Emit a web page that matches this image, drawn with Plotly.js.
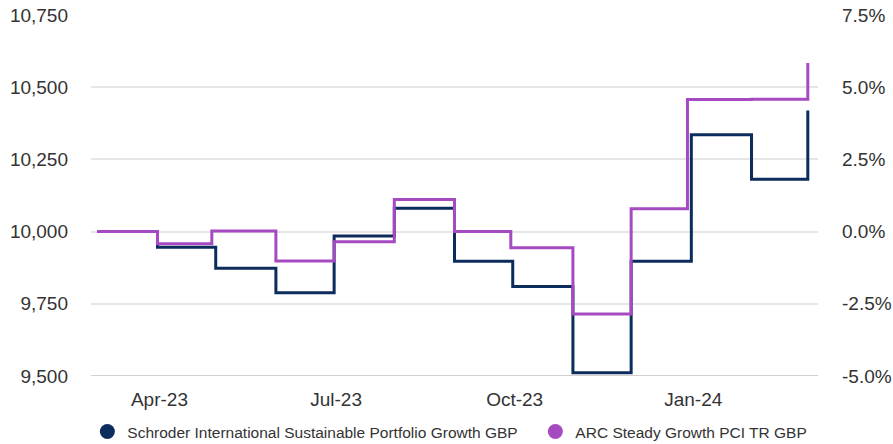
<!DOCTYPE html>
<html>
<head>
<meta charset="utf-8">
<script src="https://cdn.plot.ly/plotly-3.0.1.min.js"></script>
<style>
  html, body { margin: 0; padding: 0; background: #ffffff; }
  #chart { width: 893px; height: 444px; }
</style>
</head>
<body>
<div id="chart"></div>
<script>
// Month-end dates (Schroder uses calendar month-end, ARC uses last business day)
const schroderDates = ['2023-02-28','2023-03-31','2023-04-30','2023-05-31','2023-06-30','2023-07-31','2023-08-31','2023-09-30','2023-10-31','2023-11-30','2023-12-31','2024-01-31','2024-02-29'];
const arcDates      = ['2023-02-28','2023-03-31','2023-04-28','2023-05-31','2023-06-30','2023-07-31','2023-08-31','2023-09-29','2023-10-31','2023-11-30','2023-12-29','2024-01-31','2024-02-29'];

// Growth of 10,000
const schroderValues = [10000, 9946, 9873, 9788, 9985, 10081, 9897, 9810, 9511, 9897, 10335, 10181, 10419];
const arcValues      = [10000, 9958, 10002, 9898, 9965, 10111, 10000, 9944, 9715, 10079, 10457, 10458, 10584];

const seriesNames = ['Schroder International Sustainable Portfolio Growth GBP', 'ARC Steady Growth PCI TR GBP'];
const seriesColors = ['#0b2c5c', '#a64ac2'];

const leftTicks = [9500, 9750, 10000, 10250, 10500, 10750];
const rightTicks = [-5.0, -2.5, 0.0, 2.5, 5.0, 7.5];
const rightTickLabels = ['-5.0%', '-2.5%', '0.0%', '2.5%', '5.0%', '7.5%'];
const xTickDates = ['2023-04-01', '2023-07-01', '2023-10-01', '2024-01-01'];
const xTickLabels = ['Apr-23', 'Jul-23', 'Oct-23', 'Jan-24'];

const FONT = '"Liberation Sans", Arial, Helvetica, sans-serif';
const TXT = '#333333';

const traces = [
  {
    x: schroderDates, y: schroderValues, type: 'scatter', mode: 'lines',
    line: {shape: 'hv', color: seriesColors[0], width: 3},
    name: seriesNames[0], showlegend: false, hoverinfo: 'skip'
  },
  {
    x: arcDates, y: arcValues, type: 'scatter', mode: 'lines',
    line: {shape: 'hv', color: seriesColors[1], width: 3},
    name: seriesNames[1], showlegend: false, hoverinfo: 'skip'
  },
  // percentage mirror on the right axis (invisible)
  {
    x: schroderDates, y: schroderValues.map(v => v / 100 - 100), yaxis: 'y2',
    type: 'scatter', mode: 'lines', line: {color: 'rgba(0,0,0,0)', width: 0},
    showlegend: false, hoverinfo: 'skip'
  },
  // legend entries with round markers
  {
    x: [null], y: [null], type: 'scatter', mode: 'markers',
    marker: {symbol: 'circle', size: 15, color: seriesColors[0]},
    name: seriesNames[0], showlegend: true, hoverinfo: 'skip', legendwidth: 403
  },
  {
    x: [null], y: [null], type: 'scatter', mode: 'markers',
    marker: {symbol: 'circle', size: 15, color: seriesColors[1]},
    name: seriesNames[1], showlegend: true, hoverinfo: 'skip'
  }
];

const layout = {
  width: 893, height: 444,
  margin: {l: 91, r: 75, t: 15, b: 68, autoexpand: false},
  paper_bgcolor: '#ffffff', plot_bgcolor: '#ffffff',
  font: {family: FONT, color: TXT, size: 19},
  showlegend: true,
  legend: {
    orientation: 'h', x: -0.005, xanchor: 'left', y: -0.108, yanchor: 'top',
    font: {family: FONT, size: 15.5, color: TXT},
    itemclick: false, itemdoubleclick: false
  },
  xaxis: {
    type: 'date',
    range: ['2023-02-24 18:00', '2024-03-05 06:00'],
    tickvals: xTickDates, ticktext: xTickLabels,
    showgrid: false, zeroline: false, showline: false,
    ticks: '', ticklabelstandoff: 10,
    tickfont: {family: FONT, size: 19, color: TXT}
  },
  yaxis: {
    range: [9500, 10750],
    tickvals: leftTicks, tickformat: ',d',
    showgrid: true, gridcolor: '#e6e6e6', gridwidth: 2,
    zeroline: false, showline: false, ticks: '', ticklabelstandoff: 22,
    tickfont: {family: FONT, size: 19, color: TXT}
  },
  yaxis2: {
    overlaying: 'y', side: 'right',
    range: [-5, 7.5],
    tickvals: rightTicks, ticktext: rightTickLabels,
    showgrid: false, zeroline: false, showline: false, ticks: '', ticklabelstandoff: 23,
    tickfont: {family: FONT, size: 19, color: TXT}
  },
  shapes: [
    {type: 'line', xref: 'paper', yref: 'y', x0: 0, x1: 1, y0: 9500, y1: 9500,
     line: {color: '#d0d0d0', width: 2}, layer: 'below'}
  ]
};

Plotly.newPlot('chart', traces, layout, {staticPlot: true, displayModeBar: false});
</script>
</body>
</html>
